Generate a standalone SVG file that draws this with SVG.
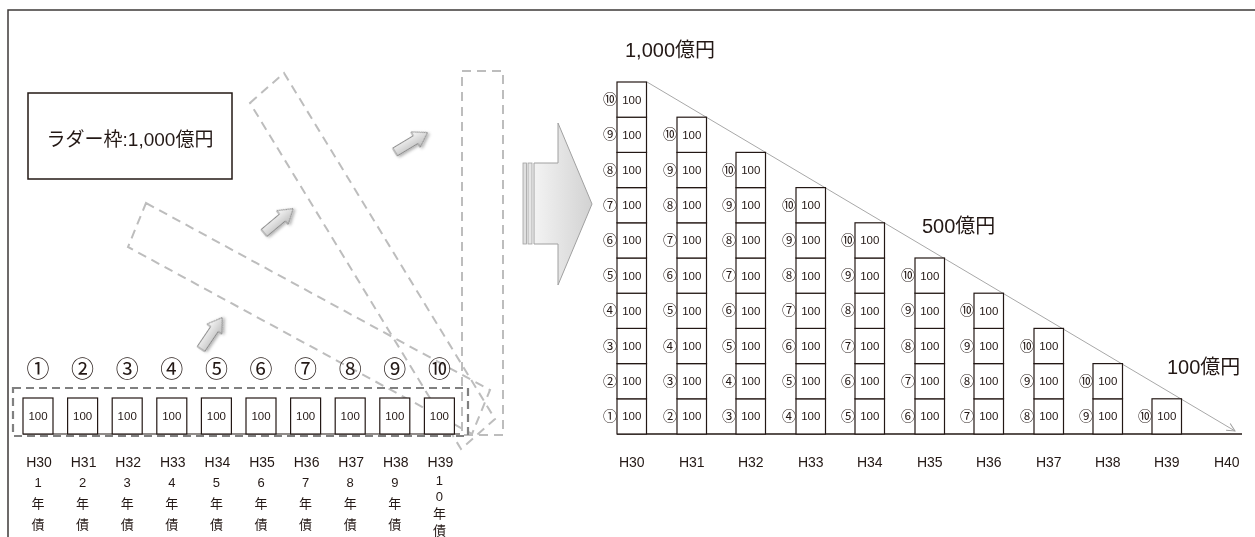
<svg xmlns="http://www.w3.org/2000/svg" width="1255" height="537" viewBox="0 0 1255 537">
<style>
text{fill:#231815;font-family:"Liberation Sans","Noto Sans CJK JP",sans-serif}
.frame{stroke:#3e3a39;stroke-width:1.5;fill:none}
.box{fill:#fff;stroke:#231815;stroke-width:1.2}
.v{font-size:11.5px;text-anchor:middle}
.c{font-family:"Noto Sans CJK JP",sans-serif;font-size:14px;text-anchor:middle}
.cl{font-family:"Noto Sans CJK JP",sans-serif;font-size:23px;text-anchor:middle}
.h{font-size:14px;text-anchor:middle}
.y{font-family:"Liberation Sans","Noto Sans CJK JP",sans-serif;font-size:13px;text-anchor:middle}
.big{font-family:"Liberation Sans","Noto Sans CJK JP",sans-serif;font-size:20px}
.dashd{fill:none;stroke:#808080;stroke-width:2.2;stroke-dasharray:8 5}
.dashl{fill:none;stroke:#bdbdbd;stroke-width:2;stroke-dasharray:9 6}
.sarrow{fill:url(#gs);stroke:#8c8c8c;stroke-width:1;filter:url(#sh)}
</style>
<defs>
<linearGradient id="gs" x1="0" y1="0" x2="0" y2="1"><stop offset="0" stop-color="#fafafa"/><stop offset="1" stop-color="#bdbdbd"/></linearGradient>
<linearGradient id="gb" x1="0" y1="0" x2="1" y2="0"><stop offset="0" stop-color="#f3f3f3"/><stop offset="1" stop-color="#d2d2d2"/></linearGradient>
<filter id="sh" x="-30%" y="-30%" width="160%" height="160%"><feDropShadow dx="1" dy="2" stdDeviation="1.5" flood-color="#000" flood-opacity="0.3"/></filter>
<path id="sa" d="M0,-4.5 L24,-4.5 L24,-9 L38,0 L24,9 L24,4.5 L0,4.5 Z"/>
<marker id="ah" markerWidth="10" markerHeight="10" refX="9" refY="5" orient="auto" markerUnits="userSpaceOnUse"><path d="M1,1 L9,5 L1,9" fill="none" stroke="#a0a0a0" stroke-width="1"/></marker>
</defs>
<rect width="1255" height="537" fill="#fff"/>
<g opacity="0.999">
<path class="frame" d="M8,537 L8,10 L1255,10"/>

<g id="ladder-label">
<rect x="28" y="93" width="204" height="86" fill="#fff" stroke="#231815" stroke-width="1.5"/>
<text x="130" y="146" font-size="19" text-anchor="middle">ラダー枠:1,000億円</text>
</g>

<g id="rotations">
<polygon class="dashl" points="146,203 490,390 472,434 128,247"/>
<polygon class="dashl" points="250,103 284,73 495,419 461,449"/>
<rect class="dashl" x="462" y="71" width="41" height="364"/>
</g>

<g id="left-ladder">
<rect class="dashd" x="13" y="388" width="455" height="48"/>
<line x1="23" y1="434" x2="460" y2="434" stroke="#231815" stroke-width="1.2"/>
<g id="l1"><text class="cl" x="38" y="377">①</text><rect class="box" x="23" y="398" width="30" height="36"/><text class="v" x="38" y="420">100</text><text class="h" x="39" y="467">H30</text><text class="y" x="38" y="487">1<tspan x="38" y="508">年</tspan><tspan x="38" y="529">債</tspan></text></g>
<g id="l2"><text class="cl" x="82.6" y="377">②</text><rect class="box" x="67.6" y="398" width="30" height="36"/><text class="v" x="82.6" y="420">100</text><text class="h" x="83.6" y="467">H31</text><text class="y" x="82.6" y="487">2<tspan x="82.6" y="508">年</tspan><tspan x="82.6" y="529">債</tspan></text></g>
<g id="l3"><text class="cl" x="127.2" y="377">③</text><rect class="box" x="112.2" y="398" width="30" height="36"/><text class="v" x="127.2" y="420">100</text><text class="h" x="128.2" y="467">H32</text><text class="y" x="127.2" y="487">3<tspan x="127.2" y="508">年</tspan><tspan x="127.2" y="529">債</tspan></text></g>
<g id="l4"><text class="cl" x="171.8" y="377">④</text><rect class="box" x="156.8" y="398" width="30" height="36"/><text class="v" x="171.8" y="420">100</text><text class="h" x="172.8" y="467">H33</text><text class="y" x="171.8" y="487">4<tspan x="171.8" y="508">年</tspan><tspan x="171.8" y="529">債</tspan></text></g>
<g id="l5"><text class="cl" x="216.4" y="377">⑤</text><rect class="box" x="201.4" y="398" width="30" height="36"/><text class="v" x="216.4" y="420">100</text><text class="h" x="217.4" y="467">H34</text><text class="y" x="216.4" y="487">5<tspan x="216.4" y="508">年</tspan><tspan x="216.4" y="529">債</tspan></text></g>
<g id="l6"><text class="cl" x="261" y="377">⑥</text><rect class="box" x="246" y="398" width="30" height="36"/><text class="v" x="261" y="420">100</text><text class="h" x="262" y="467">H35</text><text class="y" x="261" y="487">6<tspan x="261" y="508">年</tspan><tspan x="261" y="529">債</tspan></text></g>
<g id="l7"><text class="cl" x="305.6" y="377">⑦</text><rect class="box" x="290.6" y="398" width="30" height="36"/><text class="v" x="305.6" y="420">100</text><text class="h" x="306.6" y="467">H36</text><text class="y" x="305.6" y="487">7<tspan x="305.6" y="508">年</tspan><tspan x="305.6" y="529">債</tspan></text></g>
<g id="l8"><text class="cl" x="350.2" y="377">⑧</text><rect class="box" x="335.2" y="398" width="30" height="36"/><text class="v" x="350.2" y="420">100</text><text class="h" x="351.2" y="467">H37</text><text class="y" x="350.2" y="487">8<tspan x="350.2" y="508">年</tspan><tspan x="350.2" y="529">債</tspan></text></g>
<g id="l9"><text class="cl" x="394.8" y="377">⑨</text><rect class="box" x="379.8" y="398" width="30" height="36"/><text class="v" x="394.8" y="420">100</text><text class="h" x="395.8" y="467">H38</text><text class="y" x="394.8" y="487">9<tspan x="394.8" y="508">年</tspan><tspan x="394.8" y="529">債</tspan></text></g>
<g id="l10"><text class="cl" x="439.4" y="377">⑩</text><rect class="box" x="424.4" y="398" width="30" height="36"/><text class="v" x="439.4" y="420">100</text><text class="h" x="440.4" y="467">H39</text><text class="y" x="439.4" y="485" font-size="12">1<tspan x="439.4" y="501">0</tspan><tspan x="439.4" y="518">年</tspan><tspan x="439.4" y="535">債</tspan></text></g>
</g>

<g id="connectors">
<use href="#sa" class="sarrow" transform="translate(201,349) rotate(-56)"/>
<use href="#sa" class="sarrow" transform="translate(264,233) rotate(-40)"/>
<use href="#sa" class="sarrow" transform="translate(395,152) rotate(-31)"/>
<g id="big-arrow">
<rect x="523" y="163" width="3.5" height="81" fill="#e0e0e0" stroke="#a0a0a0" stroke-width="0.8"/>
<rect x="528" y="163" width="4" height="81" fill="#e6e6e6" stroke="#a0a0a0" stroke-width="0.8"/>
<path d="M534,163 L558,163 L558,123 L592,204 L558,285 L558,244 L534,244 Z" fill="url(#gb)" stroke="#a0a0a0" stroke-width="1"/>
</g>
<line x1="647" y1="82" x2="1235" y2="431" stroke="#a8a8a8" stroke-width="1" marker-end="url(#ah)"/>
<line x1="617" y1="434" x2="1242" y2="434" stroke="#231815" stroke-width="1.5"/>
</g>

<g id="right-ladder">
<text class="big" x="625" y="57">1,000億円</text>
<text class="big" x="922" y="233">500億円</text>
<text class="big" x="1167" y="374">100億円</text>

<g id="c30" transform="translate(617,0)">
<rect class="box" x="0" y="398.8" width="29.5" height="35.2"/><rect class="box" x="0" y="363.6" width="29.5" height="35.2"/><rect class="box" x="0" y="328.4" width="29.5" height="35.2"/><rect class="box" x="0" y="293.2" width="29.5" height="35.2"/><rect class="box" x="0" y="258" width="29.5" height="35.2"/><rect class="box" x="0" y="222.8" width="29.5" height="35.2"/><rect class="box" x="0" y="187.6" width="29.5" height="35.2"/><rect class="box" x="0" y="152.4" width="29.5" height="35.2"/><rect class="box" x="0" y="117.2" width="29.5" height="35.2"/><rect class="box" x="0" y="82" width="29.5" height="35.2"/>
<text class="v" x="14.75" y="420.4">100</text><text class="v" x="14.75" y="385.2">100</text><text class="v" x="14.75" y="350">100</text><text class="v" x="14.75" y="314.8">100</text><text class="v" x="14.75" y="279.6">100</text><text class="v" x="14.75" y="244.4">100</text><text class="v" x="14.75" y="209.2">100</text><text class="v" x="14.75" y="174">100</text><text class="v" x="14.75" y="138.8">100</text><text class="v" x="14.75" y="103.6">100</text>
<text class="c" x="-7" y="421">①</text><text class="c" x="-7" y="385.8">②</text><text class="c" x="-7" y="350.6">③</text><text class="c" x="-7" y="315.4">④</text><text class="c" x="-7" y="280.2">⑤</text><text class="c" x="-7" y="245">⑥</text><text class="c" x="-7" y="209.8">⑦</text><text class="c" x="-7" y="174.6">⑧</text><text class="c" x="-7" y="139.4">⑨</text><text class="c" x="-7" y="104.2">⑩</text>
<text class="h" x="14.75" y="467">H30</text>
</g>

<g id="c31" transform="translate(677,0)">
<rect class="box" x="0" y="398.8" width="29.5" height="35.2"/><rect class="box" x="0" y="363.6" width="29.5" height="35.2"/><rect class="box" x="0" y="328.4" width="29.5" height="35.2"/><rect class="box" x="0" y="293.2" width="29.5" height="35.2"/><rect class="box" x="0" y="258" width="29.5" height="35.2"/><rect class="box" x="0" y="222.8" width="29.5" height="35.2"/><rect class="box" x="0" y="187.6" width="29.5" height="35.2"/><rect class="box" x="0" y="152.4" width="29.5" height="35.2"/><rect class="box" x="0" y="117.2" width="29.5" height="35.2"/>
<text class="v" x="14.75" y="420.4">100</text><text class="v" x="14.75" y="385.2">100</text><text class="v" x="14.75" y="350">100</text><text class="v" x="14.75" y="314.8">100</text><text class="v" x="14.75" y="279.6">100</text><text class="v" x="14.75" y="244.4">100</text><text class="v" x="14.75" y="209.2">100</text><text class="v" x="14.75" y="174">100</text><text class="v" x="14.75" y="138.8">100</text>
<text class="c" x="-7" y="421">②</text><text class="c" x="-7" y="385.8">③</text><text class="c" x="-7" y="350.6">④</text><text class="c" x="-7" y="315.4">⑤</text><text class="c" x="-7" y="280.2">⑥</text><text class="c" x="-7" y="245">⑦</text><text class="c" x="-7" y="209.8">⑧</text><text class="c" x="-7" y="174.6">⑨</text><text class="c" x="-7" y="139.4">⑩</text>
<text class="h" x="14.75" y="467">H31</text>
</g>

<g id="c32" transform="translate(736,0)">
<rect class="box" x="0" y="398.8" width="29.5" height="35.2"/><rect class="box" x="0" y="363.6" width="29.5" height="35.2"/><rect class="box" x="0" y="328.4" width="29.5" height="35.2"/><rect class="box" x="0" y="293.2" width="29.5" height="35.2"/><rect class="box" x="0" y="258" width="29.5" height="35.2"/><rect class="box" x="0" y="222.8" width="29.5" height="35.2"/><rect class="box" x="0" y="187.6" width="29.5" height="35.2"/><rect class="box" x="0" y="152.4" width="29.5" height="35.2"/>
<text class="v" x="14.75" y="420.4">100</text><text class="v" x="14.75" y="385.2">100</text><text class="v" x="14.75" y="350">100</text><text class="v" x="14.75" y="314.8">100</text><text class="v" x="14.75" y="279.6">100</text><text class="v" x="14.75" y="244.4">100</text><text class="v" x="14.75" y="209.2">100</text><text class="v" x="14.75" y="174">100</text>
<text class="c" x="-7" y="421">③</text><text class="c" x="-7" y="385.8">④</text><text class="c" x="-7" y="350.6">⑤</text><text class="c" x="-7" y="315.4">⑥</text><text class="c" x="-7" y="280.2">⑦</text><text class="c" x="-7" y="245">⑧</text><text class="c" x="-7" y="209.8">⑨</text><text class="c" x="-7" y="174.6">⑩</text>
<text class="h" x="14.75" y="467">H32</text>
</g>

<g id="c33" transform="translate(796,0)">
<rect class="box" x="0" y="398.8" width="29.5" height="35.2"/><rect class="box" x="0" y="363.6" width="29.5" height="35.2"/><rect class="box" x="0" y="328.4" width="29.5" height="35.2"/><rect class="box" x="0" y="293.2" width="29.5" height="35.2"/><rect class="box" x="0" y="258" width="29.5" height="35.2"/><rect class="box" x="0" y="222.8" width="29.5" height="35.2"/><rect class="box" x="0" y="187.6" width="29.5" height="35.2"/>
<text class="v" x="14.75" y="420.4">100</text><text class="v" x="14.75" y="385.2">100</text><text class="v" x="14.75" y="350">100</text><text class="v" x="14.75" y="314.8">100</text><text class="v" x="14.75" y="279.6">100</text><text class="v" x="14.75" y="244.4">100</text><text class="v" x="14.75" y="209.2">100</text>
<text class="c" x="-7" y="421">④</text><text class="c" x="-7" y="385.8">⑤</text><text class="c" x="-7" y="350.6">⑥</text><text class="c" x="-7" y="315.4">⑦</text><text class="c" x="-7" y="280.2">⑧</text><text class="c" x="-7" y="245">⑨</text><text class="c" x="-7" y="209.8">⑩</text>
<text class="h" x="14.75" y="467">H33</text>
</g>

<g id="c34" transform="translate(855,0)">
<rect class="box" x="0" y="398.8" width="29.5" height="35.2"/><rect class="box" x="0" y="363.6" width="29.5" height="35.2"/><rect class="box" x="0" y="328.4" width="29.5" height="35.2"/><rect class="box" x="0" y="293.2" width="29.5" height="35.2"/><rect class="box" x="0" y="258" width="29.5" height="35.2"/><rect class="box" x="0" y="222.8" width="29.5" height="35.2"/>
<text class="v" x="14.75" y="420.4">100</text><text class="v" x="14.75" y="385.2">100</text><text class="v" x="14.75" y="350">100</text><text class="v" x="14.75" y="314.8">100</text><text class="v" x="14.75" y="279.6">100</text><text class="v" x="14.75" y="244.4">100</text>
<text class="c" x="-7" y="421">⑤</text><text class="c" x="-7" y="385.8">⑥</text><text class="c" x="-7" y="350.6">⑦</text><text class="c" x="-7" y="315.4">⑧</text><text class="c" x="-7" y="280.2">⑨</text><text class="c" x="-7" y="245">⑩</text>
<text class="h" x="14.75" y="467">H34</text>
</g>

<g id="c35" transform="translate(915,0)">
<rect class="box" x="0" y="398.8" width="29.5" height="35.2"/><rect class="box" x="0" y="363.6" width="29.5" height="35.2"/><rect class="box" x="0" y="328.4" width="29.5" height="35.2"/><rect class="box" x="0" y="293.2" width="29.5" height="35.2"/><rect class="box" x="0" y="258" width="29.5" height="35.2"/>
<text class="v" x="14.75" y="420.4">100</text><text class="v" x="14.75" y="385.2">100</text><text class="v" x="14.75" y="350">100</text><text class="v" x="14.75" y="314.8">100</text><text class="v" x="14.75" y="279.6">100</text>
<text class="c" x="-7" y="421">⑥</text><text class="c" x="-7" y="385.8">⑦</text><text class="c" x="-7" y="350.6">⑧</text><text class="c" x="-7" y="315.4">⑨</text><text class="c" x="-7" y="280.2">⑩</text>
<text class="h" x="14.75" y="467">H35</text>
</g>

<g id="c36" transform="translate(974,0)">
<rect class="box" x="0" y="398.8" width="29.5" height="35.2"/><rect class="box" x="0" y="363.6" width="29.5" height="35.2"/><rect class="box" x="0" y="328.4" width="29.5" height="35.2"/><rect class="box" x="0" y="293.2" width="29.5" height="35.2"/>
<text class="v" x="14.75" y="420.4">100</text><text class="v" x="14.75" y="385.2">100</text><text class="v" x="14.75" y="350">100</text><text class="v" x="14.75" y="314.8">100</text>
<text class="c" x="-7" y="421">⑦</text><text class="c" x="-7" y="385.8">⑧</text><text class="c" x="-7" y="350.6">⑨</text><text class="c" x="-7" y="315.4">⑩</text>
<text class="h" x="14.75" y="467">H36</text>
</g>

<g id="c37" transform="translate(1034,0)">
<rect class="box" x="0" y="398.8" width="29.5" height="35.2"/><rect class="box" x="0" y="363.6" width="29.5" height="35.2"/><rect class="box" x="0" y="328.4" width="29.5" height="35.2"/>
<text class="v" x="14.75" y="420.4">100</text><text class="v" x="14.75" y="385.2">100</text><text class="v" x="14.75" y="350">100</text>
<text class="c" x="-7" y="421">⑧</text><text class="c" x="-7" y="385.8">⑨</text><text class="c" x="-7" y="350.6">⑩</text>
<text class="h" x="14.75" y="467">H37</text>
</g>

<g id="c38" transform="translate(1093,0)">
<rect class="box" x="0" y="398.8" width="29.5" height="35.2"/><rect class="box" x="0" y="363.6" width="29.5" height="35.2"/>
<text class="v" x="14.75" y="420.4">100</text><text class="v" x="14.75" y="385.2">100</text>
<text class="c" x="-7" y="421">⑨</text><text class="c" x="-7" y="385.8">⑩</text>
<text class="h" x="14.75" y="467">H38</text>
</g>

<g id="c39" transform="translate(1152,0)">
<rect class="box" x="0" y="398.8" width="29.5" height="35.2"/>
<text class="v" x="14.75" y="420.4">100</text>
<text class="c" x="-7" y="421">⑩</text>
<text class="h" x="14.75" y="467">H39</text>
</g>

<g id="c40" transform="translate(1212,0)">
<text class="h" x="14.75" y="467">H40</text>
</g>
</g>
</g>
</svg>
